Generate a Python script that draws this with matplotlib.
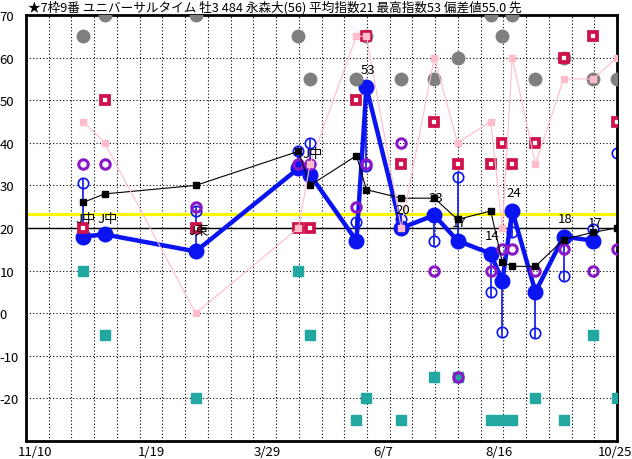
import numpy as np
import pandas as pd
import matplotlib
matplotlib.use('Agg')
import matplotlib.pyplot as plt

plt.rcParams['font.family'] = ['Noto Sans CJK JP', 'DejaVu Sans']

TITLE = "★7枠9番 ユニバーサルタイム 牡3 484 永森大(56) 平均指数21 最高指数53 偏差値55.0 先"

# race dates (one per race)
race_dates = pd.to_datetime([
    '2023-12-09', '2023-12-22', '2024-02-15', '2024-04-17', '2024-04-24',
    '2024-05-22', '2024-05-28', '2024-06-18', '2024-07-08', '2024-07-22',
    '2024-08-11', '2024-08-18', '2024-08-24', '2024-09-07', '2024-09-24',
    '2024-10-12', '2024-10-26'])

# main index (thick blue line), last race not run yet
main_idx = [18, 18.5, 14.5, 34, 32.5, 17, 53, 20, 23, 17, 14, 7.5, 24, 5, 18, 17, np.nan]
main_lbl = ['', '', '', '', '', '', '53', '20', '23', '17', '14', '', '24', '', '18', '17', '']
# second index (open blue circles)
sub_idx = [30.5, 18.5, 24, 38, 40, 21.5, 34.5, 22, 17, 32, 5, -4.3, 19, -4.6, 8.8, 19.8, 37.6]
# black line
avg_idx = [26, 28, 30, 38, 30, 37, 29, 27, 27, 22, 24, 12, 11, 11, 17.3, 19, 20]
# pink line
pink_idx = [45, 40, 0, 20, 35, 65, 65, 20, 60, 40, 45, 20, 60, 35, 55, 55, 60]
# scattered markers
purple_vals = [35, 35, 25, 35, 35, 25, 35, 40, 10, -15, 10, 15, 15, 10, 15, 10, 15]
crimson_vals = [20, 50, 20, 20, 20, 50, 65, 35, 45, 35, 35, 40, 35, 40, 60, 65, 45]
gray_vals = [65, 70, 70, 65, 55, 55, 65, 55, 55, 60, 70, 65, 70, 55, 60, 55, 55]
teal_vals = [10, -5, -20, 10, -5, -25, -20, -25, -15, -15, -25, -25, -25, -20, -25, -5, -20]

# course notes
note_dates = pd.to_datetime(['2023-12-09', '2023-12-22', '2024-02-15', '2024-04-24'])
note_vals = [22.3, 22.3, 19.5, 37.4]
note_text = ['J中', 'J中', 'J東', 'J中']

tick_dates = pd.to_datetime(['2023-11-10', '2024-01-19', '2024-03-29',
                             '2024-06-07', '2024-08-16', '2024-10-25'])
tick_text = ['11/10', '1/19', '3/29', '6/7', '8/16', '10/25']

avg_line = 23.3
x0 = pd.Timestamp('2023-11-04 14:00')
x1 = pd.Timestamp('2024-10-26 05:00')

fig = plt.figure(figsize=(6.32, 4.60), dpi=100)
ax = fig.add_axes([26 / 632, 18 / 460, 591 / 632, 426 / 460])
ax.set_xlim(x0, x1)
ax.set_ylim(-30, 70)

# grid
grid_x = pd.date_range(x0, x1, periods=27)
for gx in grid_x[1:-1]:
    ax.axvline(gx, color='black', lw=0.8, ls=(0, (1, 2)), zorder=1)
for gy in range(-20, 70, 10):
    ax.axhline(gy, color='black', lw=0.8, ls=(0, (1, 2)), zorder=1)
ax.axhline(20, color='black', lw=1, zorder=1.5)
ax.axhline(avg_line, color='#F8F800', lw=2.3, zorder=1.6)

blue = '#0A14F0'
ax.vlines(race_dates, main_idx, sub_idx, color=blue, lw=1.2, zorder=2)
ax.plot(race_dates, sub_idx, 'o', mfc='white', mec=blue, mew=1.2, ms=7.5, zorder=2.1)
ax.plot(race_dates, sub_idx, '|', color=blue, mew=1.2, ms=7.5, zorder=2.2)
ax.plot(race_dates, main_idx, '-o', color=blue, lw=3.2, ms=10.5, zorder=3)

ax.plot(race_dates, teal_vals, 's', color='#22A8A0', ms=6.5, zorder=4)
ax.plot(race_dates, gray_vals, 'o', color='#7F7F7F', ms=9, zorder=4)
ax.plot(race_dates, crimson_vals, 's', mfc='white', mec='#D0124A', mew=2.7, ms=5.6, zorder=5)
ax.plot(race_dates, purple_vals, 'o', mfc='none', mec='#8A18C8', mew=2.2, ms=6.8, zorder=5)
ax.plot(race_dates, avg_idx, '-s', color='black', lw=0.8, ms=4, zorder=6)
ax.plot(race_dates, pink_idx, '-s', color='#FFBCCB', lw=0.8, ms=4, zorder=6.5)

for d, v, t in zip(race_dates, main_idx, main_lbl):
    if t:
        ax.annotate(t, (d, v), xytext=(1, 13), textcoords='offset points',
                    ha='center', va='center', fontsize=9.5, zorder=8)
for d, v, t in zip(note_dates, note_vals, note_text):
    ax.annotate(t, (d, v), xytext=(2, 0), textcoords='offset points',
                ha='center', va='center', fontsize=9.5, zorder=8)

ax.set_xticks(tick_dates)
ax.set_xticklabels(tick_text, fontsize=9.5)
ax.set_yticks(range(-20, 71, 10))
ax.set_yticklabels([str(v) for v in range(-20, 71, 10)], fontsize=9.5, ha='left')
ax.tick_params(axis='y', length=0, pad=19)
ax.tick_params(axis='x', length=0, pad=3)
for s in ax.spines.values():
    s.set_linewidth(2)

fig.text(28 / 632, 1 - 8 / 460, TITLE, fontsize=9.1, va='center', ha='left')

fig.savefig('out.png', dpi=100)
